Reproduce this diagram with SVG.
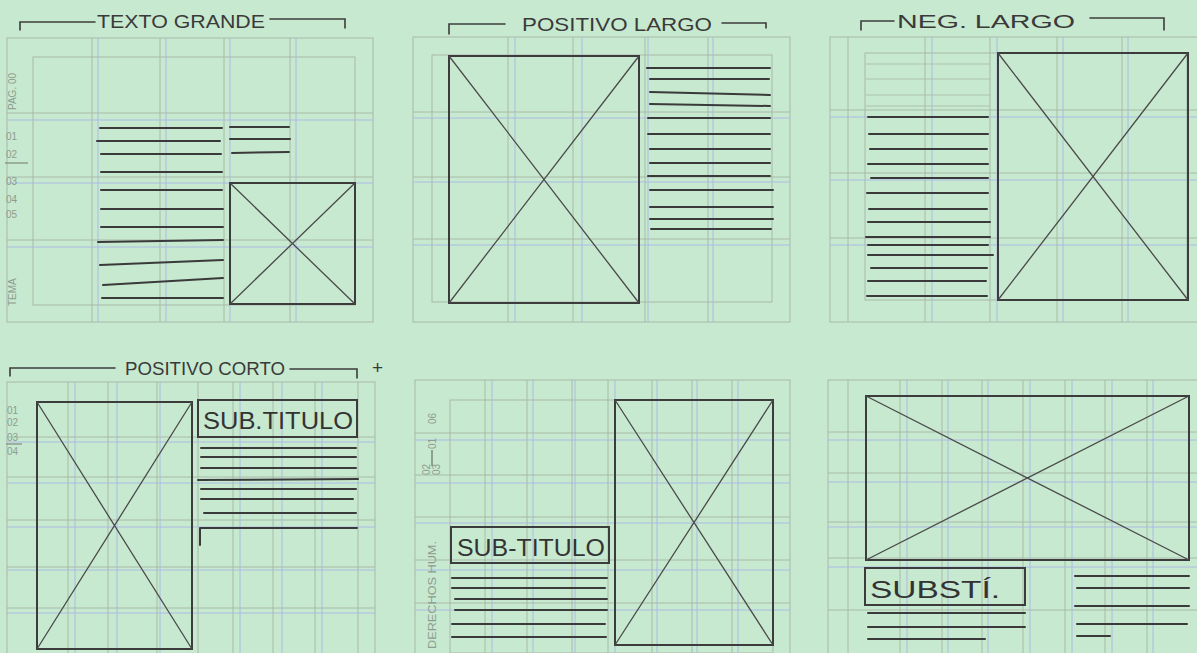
<svg xmlns="http://www.w3.org/2000/svg" width="1197" height="653" viewBox="0 0 1197 653">
<style>
.g{stroke:#a6b4a6;stroke-width:0.9;fill:none}
.b{stroke:#a9b6e6;stroke-width:0.9;fill:none}
.box{stroke:#3c3c3c;stroke-width:2;fill:none}
.x{stroke:#4a4a4a;stroke-width:1.3;fill:none}
.ln{stroke:#3a3a3a;stroke-width:2;fill:none;stroke-linecap:round}
.br{stroke:#3c3c3c;stroke-width:1.6;fill:none;stroke-linecap:round}
.t{font-family:"Liberation Sans",Arial,sans-serif;fill:#3a3a3a;font-size:19px}
.s{font-family:"Liberation Sans",Arial,sans-serif;fill:#8d9c8f;font-size:10px}
.st{font-family:"Liberation Sans",Arial,sans-serif;fill:#333;font-size:24px}
</style>
<rect x="0" y="0" width="1197" height="653" fill="#c7e9cf"/>

<!-- Panel 1: TEXTO GRANDE -->
<g id="texto-grande">
<rect class="g" x="7" y="38" width="366" height="284"/>
<rect class="g" x="33" y="57" width="322" height="248"/>
<path class="g" d="M92 38V322M160 38V322M224 38V322M290 38V322M7 113H373M7 177H373M7 240H373"/>
<path class="b" d="M98 38V322M166 38V322M230 38V322M296 38V322M7 120H373M7 183H373M7 247H373"/>
<path class="br" d="M20 30V22H95M270 19H345V28"/>
<text class="t" x="97" y="28" textLength="168" lengthAdjust="spacingAndGlyphs">TEXTO  GRANDE</text>
<path class="ln" d="M100 128H222M97 141H220M101 154H221M101 172H222M101 190H222M101 209H223M101 227H223M98 242L223 240M100 265L223 260M103 285L223 278M102 298H223"/>
<path class="ln" d="M230 127H289M230 139H290M232 153L289 152"/>
<rect class="box" x="230" y="183" width="125" height="121"/>
<path class="x" d="M230 183L355 304M355 183L230 304"/>
<text class="s" transform="translate(16 110) rotate(-90)">PAG. 00</text>
<text class="s" x="6" y="140">01</text>
<text class="s" x="6" y="158">02</text>
<path d="M5 163H28" stroke="#7d8a7e" stroke-width="1.2"/>
<text class="s" x="6" y="185">03</text>
<text class="s" x="6" y="203">04</text>
<text class="s" x="6" y="218">05</text>
<text class="s" transform="translate(16 306) rotate(-90)">TEMA</text>
</g>

<!-- Panel 2: POSITIVO LARGO -->
<g id="positivo-largo">
<rect class="g" x="413" y="37" width="377" height="285"/>
<rect class="g" x="432" y="55" width="340" height="247"/>
<path class="g" d="M508 37V322M573 37V322M645 37V322M708 37V322M413 112H790M413 177H790M413 239H790"/>
<path class="b" d="M515 37V322M582 37V322M648 37V322M713 37V322M413 118H790M413 182H790M413 245H790"/>
<path class="br" d="M449 34V24H505M722 23H766V28"/>
<text class="t" x="522" y="31" textLength="190" lengthAdjust="spacingAndGlyphs">POSITIVO  LARGO</text>
<rect class="box" x="449" y="56" width="190" height="247"/>
<path class="x" d="M449 56L639 303M639 56L449 303"/>
<path class="ln" d="M647 68H770M650 79H769M650 92L770 95M650 104L770 106M648 118H770M648 134H770M650 149H770M650 163H770M648 176H770M650 190H773M650 207H773M650 219H773M651 229H771"/>
</g>

<!-- Panel 3: NEG. LARGO -->
<g id="neg-largo">
<rect class="g" x="830" y="37" width="370" height="285"/>
<rect class="g" x="865" y="53" width="322" height="247"/>
<path class="g" d="M848 37V322M925 37V322M990 37V322M1057 37V322M1122 37V322M830 110H1197M830 173H1197M830 238H1197"/>
<path class="b" d="M932 37V322M997 37V322M1063 37V322M1128 37V322M830 117H1197M830 180H1197M830 245H1197"/>
<path class="g" d="M866 64H990M866 79H990M866 95H990M866 106H990" opacity="0.8"/>
<path class="br" d="M861 30V21H894M1090 18H1164V30"/>
<text class="t" x="897" y="28" textLength="178" lengthAdjust="spacingAndGlyphs">NEG.  LARGO</text>
<path class="ln" d="M868 117H988M869 134H988M870 149H987M868 164H988M871 178H988M867 193H988M869 209H987M868 222H990M866 237H990M868 245H988M868 255H993M871 268H987M868 281H986M867 296H987"/>
<rect class="box" x="998" y="53" width="190" height="247"/>
<path class="x" d="M998 53L1188 300M1188 53L998 300"/>
</g>

<!-- Panel 4: POSITIVO CORTO -->
<g id="positivo-corto">
<rect class="g" x="7" y="382" width="368" height="275"/>
<path class="g" d="M68 382V653M108 382V653M157 382V653M198 382V653M233 382V653M273 382V653M315 382V653M358 382V653M7 437H375M7 477H375M7 520H375M7 567H375M7 608H375"/>
<path class="b" d="M75 382V653M117 382V653M160 382V653M240 382V653M282 382V653M322 382V653M7 442H375M7 483H375M7 527H375M7 570H375M7 613H375"/>
<path class="br" d="M10 376V368H115M290 369H357V378"/>
<text class="t" x="125" y="375" textLength="160" lengthAdjust="spacingAndGlyphs">POSITIVO CORTO</text>
<text class="t" x="372" y="374" font-size="18">+</text>
<rect class="box" x="37" y="402" width="155" height="247"/>
<path class="x" d="M37 402L192 649M192 402L37 649"/>
<rect class="box" x="198" y="400" width="159" height="37"/>
<text class="st" x="203" y="429" textLength="150" lengthAdjust="spacingAndGlyphs">SUB.TITULO</text>
<path class="ln" d="M201 448H356M201 457H356M201 468H356M198 480L358 479M201 489H356M201 499H353M204 513H356M200 528H357M200 528V545"/>
<text class="s" x="7" y="414">01</text>
<text class="s" x="7" y="426">02</text>
<text class="s" x="7" y="441">03</text>
<path d="M6 444H22" stroke="#7d8a7e" stroke-width="1.2"/>
<text class="s" x="7" y="455">04</text>
</g>

<!-- Panel 5: SUB-TITULO / imagen derecha -->
<g id="subtitulo-derecha">
<rect class="g" x="415" y="380" width="375" height="277"/>
<rect class="g" x="450" y="400" width="323" height="253"/>
<path class="g" d="M485 380V653M527 380V653M572 380V653M608 380V653M652 380V653M692 380V653M732 380V653M415 433H790M415 475H790M415 517H790M415 560H790M415 603H790"/>
<path class="b" d="M492 380V653M533 380V653M575 380V653M615 380V653M657 380V653M697 380V653M738 380V653M415 440H790M415 483H790M415 523H790M415 570H790M415 610H790"/>
<rect class="box" x="615" y="400" width="158" height="245"/>
<path class="x" d="M615 400L773 645M773 400L615 645"/>
<rect class="box" x="451" y="527" width="158" height="36"/>
<text class="st" x="457" y="556" textLength="148" lengthAdjust="spacingAndGlyphs">SUB-TITULO</text>
<path class="ln" d="M452 578H607M452 588H605M455 599H607M455 610H607M452 624H605M452 637H606"/>
<text class="s" transform="translate(436 424) rotate(-90)">06</text>
<text class="s" transform="translate(436 449) rotate(-90)">01</text>
<text class="s" transform="translate(430 475) rotate(-90)">02</text>
<text class="s" transform="translate(440 475) rotate(-90)">03</text>
<path d="M432 450V466" stroke="#7d8a7e" stroke-width="1.5"/>
<text class="s" transform="translate(436 649) rotate(-90)" textLength="108" lengthAdjust="spacingAndGlyphs">DERECHOS HUM.</text>
</g>

<!-- Panel 6: imagen horizontal -->
<g id="imagen-horizontal">
<rect class="g" x="828" y="380" width="372" height="277"/>
<path class="g" d="M848 380V653M900 380V653M942 380V653M982 380V653M1023 380V653M1065 380V653M1105 380V653M1147 380V653M828 432H1197M828 473H1197M828 522H1197M828 558H1197M828 610H1197"/>
<path class="b" d="M907 380V653M948 380V653M988 380V653M1030 380V653M1072 380V653M1112 380V653M1153 380V653M828 440H1197M828 482H1197M828 527H1197M828 567H1197"/>
<rect class="box" x="866" y="396" width="323" height="164"/>
<path class="x" d="M866 396L1189 560M1189 396L866 560"/>
<rect class="box" x="865" y="568" width="160" height="37"/>
<text class="st" x="870" y="598" textLength="130" lengthAdjust="spacingAndGlyphs">SUBSTÍ.</text>
<path class="ln" d="M868 613H1025M868 627H1025M868 639H985"/>
<path class="ln" d="M1075 576H1189M1077 588H1189M1075 606H1189M1077 624H1187M1077 636H1110"/>
</g>
</svg>
